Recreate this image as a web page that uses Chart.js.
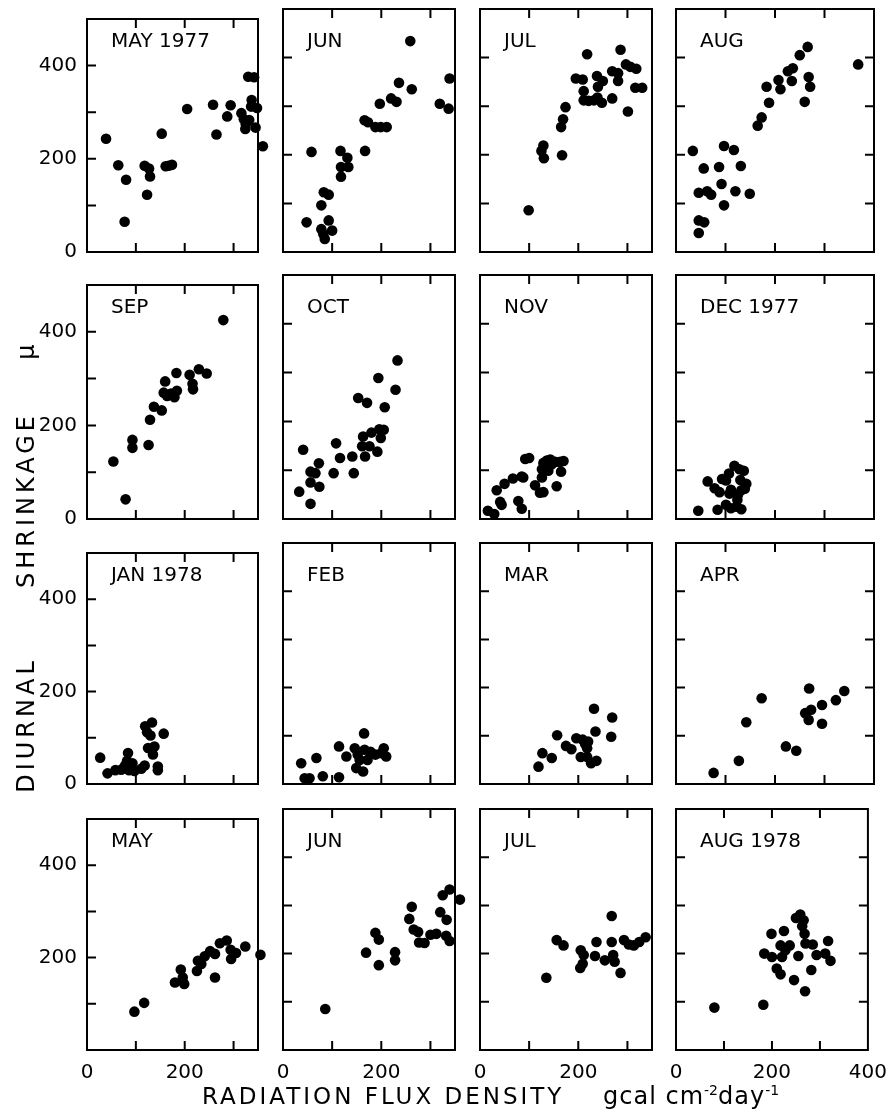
<!DOCTYPE html>
<html>
<head>
<meta charset="utf-8">
<script src="https://cdn.jsdelivr.net/npm/chart.js@4/dist/chart.umd.min.js"></script>
<style>
  body { margin: 0; background: #fff; width: 895px; height: 1116px; position: relative; overflow: hidden;
         font-family: "DejaVu Sans", sans-serif; color: #000; }
  canvas { position: absolute; }
  .month { position: absolute; font-size: 20px; line-height: 20px; white-space: pre; }
  .xtitle { position: absolute; top: 1085px; font-size: 23px; line-height: 23px; white-space: nowrap; }
  .xtitle.caps { left: 202px; letter-spacing: 3px; }
  .xtitle.units { left: 603px; font-size: 24px; letter-spacing: 1px; }
  .xtitle sup { font-size: 14px; vertical-align: 9px; line-height: 0; letter-spacing: 0; }
  .ytitle { position: absolute; font-size: 24px; line-height: 24px; white-space: nowrap; letter-spacing: 4px;
            transform: translate(-50%, -50%) rotate(-90deg); }
</style>
</head>
<body>
<script>
// panel titles, in reading order (4 x 4)
const titles = ['MAY 1977', 'JUN', 'JUL', 'AUG', 'SEP', 'OCT', 'NOV', 'DEC 1977',
                'JAN 1978', 'FEB', 'MAR', 'APR', 'MAY', 'JUN', 'JUL', 'AUG 1978'];

// tick labels shown on the outer panels
const yTickLabels = [0, 200, 400];
const yTickLabelsLastRow = [200, 400];
const xTickLabels = [0, 200];
const xTickLabelsLastCol = [0, 200, 400];
const xMax = [350, 350, 350, 400];
const yMax = 500;

// [radiation flux density, diurnal shrinkage]
const may77 = [[39,243],[64,186],[80,155],[77,65],[118,185],[127,179],[129,162],[123,123],[153,254],[161,184],[167,185],[174,187],[205,307],[258,316],[265,252],[294,315],[287,291],[316,298],[321,285],[325,274],[324,264],[332,283],[330,376],[342,375],[337,326],[336,312],[348,309],[345,267],[360,227],[367,170]];
const jun77 = [[48,61],[58,206],[78,96],[83,123],[93,118],[78,47],[82,37],[85,27],[93,65],[100,44],[117,208],[118,175],[131,194],[133,175],[118,155],[167,208],[166,271],[173,267],[188,257],[199,257],[211,257],[197,305],[220,316],[231,309],[236,348],[259,434],[262,335],[319,305],[337,295],[339,357]];
const jul77 = [[99,86],[125,208],[129,219],[130,193],[167,199],[165,257],[169,273],[174,298],[195,357],[209,355],[211,331],[211,312],[221,311],[218,407],[232,312],[238,362],[240,340],[239,318],[248,307],[250,352],[269,372],[281,368],[269,316],[281,352],[286,416],[297,386],[306,381],[318,377],[301,289],[316,338],[330,338]];
const aug77 = [[34,208],[56,172],[46,122],[63,125],[71,118],[46,65],[57,61],[46,39],[87,175],[92,140],[97,218],[97,96],[117,210],[120,125],[131,177],[149,120],[165,260],[173,277],[183,340],[188,307],[207,354],[211,335],[226,372],[236,378],[234,352],[250,405],[266,422],[268,360],[271,340],[260,309],[368,386]];
const sep77 = [[54,123],[79,42],[93,169],[93,152],[126,158],[129,212],[137,240],[153,232],[160,294],[157,270],[164,263],[172,268],[179,260],[184,274],[183,312],[210,308],[216,289],[217,277],[229,320],[245,311],[279,425]];
const oct77 = [[33,56],[41,142],[56,97],[56,75],[56,31],[66,94],[73,114],[74,66],[103,94],[108,155],[116,125],[141,128],[144,94],[153,248],[161,149],[167,128],[163,169],[171,238],[176,149],[180,177],[192,138],[194,289],[196,184],[199,166],[205,183],[207,229],[229,265],[233,325]];
const nov77 = [[16,17],[29,10],[34,59],[41,35],[44,29],[50,72],[67,83],[78,37],[85,21],[85,87],[92,123],[100,125],[88,85],[112,69],[122,54],[129,55],[126,85],[126,102],[129,115],[136,120],[143,122],[146,112],[139,99],[153,117],[163,117],[170,119],[165,97],[156,67],[136,105]];
const dec77 = [[45,17],[84,19],[64,77],[78,63],[88,55],[93,82],[107,93],[118,109],[128,102],[137,99],[130,80],[142,72],[139,62],[111,60],[108,52],[125,49],[101,29],[111,22],[122,25],[132,20],[124,39],[101,79],[132,59]];
const jan78 = [[27,57],[42,23],[58,30],[73,33],[78,40],[84,67],[82,50],[86,30],[90,33],[93,45],[97,28],[118,40],[119,125],[123,112],[130,105],[133,133],[125,78],[138,81],[135,64],[145,38],[145,30],[157,109],[111,33],[70,31]];
const feb78 = [[37,43],[44,12],[54,12],[68,54],[81,16],[114,14],[114,78],[129,57],[146,74],[149,33],[163,26],[165,105],[166,71],[156,50],[172,50],[178,67],[188,61],[200,64],[205,74],[210,57],[152,61]];
const mar78 = [[119,36],[127,64],[146,54],[157,101],[175,79],[186,72],[196,95],[205,56],[209,92],[214,83],[220,88],[218,74],[218,56],[226,43],[237,48],[232,156],[235,109],[267,98],[269,138]];
const apr78 = [[76,23],[127,48],[142,128],[173,178],[222,78],[243,69],[261,147],[268,133],[273,154],[269,198],[295,164],[295,125],[323,174],[340,193]];
const may78 = [[97,83],[117,102],[180,146],[192,174],[196,157],[199,143],[225,171],[227,193],[234,186],[241,203],[252,214],[262,208],[262,157],[272,231],[286,237],[294,217],[295,197],[305,210],[324,224],[355,206]];
const jun78 = [[86,85],[169,202],[188,243],[195,229],[195,176],[228,203],[228,186],[257,272],[262,297],[266,250],[275,245],[277,223],[288,222],[300,239],[312,241],[320,286],[325,321],[333,270],[332,237],[339,333],[339,226],[360,312]];
const jul78 = [[135,150],[156,228],[170,217],[204,170],[205,207],[211,197],[209,179],[234,195],[237,224],[254,186],[268,278],[268,224],[271,197],[274,183],[286,160],[293,228],[303,219],[313,217],[324,224],[337,234]];
const aug78 = [[80,88],[182,94],[184,200],[199,241],[200,193],[210,169],[218,157],[218,217],[221,193],[225,247],[228,207],[237,217],[246,145],[250,274],[255,195],[259,281],[266,269],[263,257],[268,241],[269,122],[270,221],[282,166],[285,219],[293,197],[311,200],[317,226],[322,185]];

const panels = [may77, jun77, jul77, aug77, sep77, oct77, nov77, dec77,
                jan78, feb78, mar78, apr78, may78, jun78, jul78, aug78];

// where each plot box sits on the page
const colLeft = [87, 283, 480, 676];
const colWidth = [171, 172, 172, 198];
const rowTop = [9, 275, 543, 809];
const rowHeight = [243, 244, 241, 241];
const PAD_L = 60, PAD_T = 12, PAD_R = 24, PAD_B = 40;

// box round the plot plus inward ticks
const frame = {
  id: 'frame',
  beforeDatasetsDraw(chart, args, opts) {
    const { ctx, chartArea: a, scales: { x, y } } = chart;
    const L = 9;
    ctx.save();
    ctx.strokeStyle = '#000';
    ctx.lineWidth = 2;
    ctx.strokeRect(a.left, a.top, a.right - a.left, a.bottom - a.top);
    ctx.beginPath();
    for (let v = 100; v < x.max; v += 100) {
      const px = x.getPixelForValue(v);
      ctx.moveTo(px, a.bottom); ctx.lineTo(px, a.bottom - L);
      ctx.moveTo(px, a.top); ctx.lineTo(px, a.top + L);
    }
    for (let v = 100; v < y.max; v += 100) {
      const py = y.getPixelForValue(v);
      ctx.moveTo(a.left, py); ctx.lineTo(a.left + L, py);
      if (opts.rightTicks) { ctx.moveTo(a.right, py); ctx.lineTo(a.right - L, py); }
    }
    ctx.stroke();
    ctx.restore();
  }
};

const tickFont = { family: 'DejaVu Sans', size: 20 };

panels.forEach((pts, i) => {
  const r = Math.floor(i / 4), c = i % 4;
  const canvas = document.createElement('canvas');
  canvas.width = colWidth[c] + PAD_L + PAD_R;
  canvas.height = rowHeight[r] + PAD_T + PAD_B;
  canvas.style.left = (colLeft[c] - PAD_L) + 'px';
  canvas.style.top = (rowTop[r] - PAD_T) + 'px';
  document.body.appendChild(canvas);

  const yShown = r === 3 ? yTickLabelsLastRow : yTickLabels;
  const xShown = c === 3 ? xTickLabelsLastCol : xTickLabels;

  new Chart(canvas, {
    type: 'scatter',
    data: {
      datasets: [{
        data: pts.map(p => ({ x: p[0], y: p[1] })),
        pointRadius: 5.3,
        pointBackgroundColor: '#000',
        pointBorderWidth: 0,
        clip: false
      }]
    },
    options: {
      responsive: false,
      animation: false,
      devicePixelRatio: 1,
      events: [],
      layout: { autoPadding: false, padding: { left: 0, top: PAD_T, right: PAD_R, bottom: 0 } },
      plugins: { legend: { display: false }, tooltip: { enabled: false }, frame: { rightTicks: c === 3 } },
      scales: {
        x: {
          type: 'linear', min: 0, max: xMax[c],
          afterFit: s => { s.height = PAD_B; },
          grid: { display: false, drawTicks: false },
          border: { display: false },
          ticks: {
            display: r === 3, stepSize: 100, includeBounds: false, autoSkip: false, maxRotation: 0,
            padding: 11, color: '#000', font: tickFont,
            callback: v => xShown.includes(v) ? String(v) : ''
          }
        },
        y: {
          type: 'linear', min: 0, max: yMax,
          afterFit: s => { s.width = PAD_L; },
          grid: { display: false, drawTicks: false },
          border: { display: false },
          ticks: {
            display: c === 0, stepSize: 100, includeBounds: false, autoSkip: false,
            padding: 10, color: '#000', font: tickFont,
            callback: v => yShown.includes(v) ? String(v) : ''
          }
        }
      }
    },
    plugins: [frame]
  });

  const lab = document.createElement('div');
  lab.className = 'month';
  lab.textContent = titles[i];
  lab.style.left = (colLeft[c] + 24) + 'px';
  lab.style.top = (rowTop[r] + 21) + 'px';
  document.body.appendChild(lab);
});

// axis titles
const xt = document.createElement('div');
xt.className = 'xtitle caps';
xt.textContent = 'RADIATION FLUX DENSITY';
document.body.appendChild(xt);

const xu = document.createElement('div');
xu.className = 'xtitle units';
xu.innerHTML = 'gcal cm<sup>-2</sup>day<sup>-1</sup>';
document.body.appendChild(xu);

[['DIURNAL', 725], ['SHRINKAGE', 500], ['μ', 350]].forEach(([word, cy]) => {
  const d = document.createElement('div');
  d.className = 'ytitle';
  d.textContent = word;
  d.style.left = '26px';
  d.style.top = cy + 'px';
  document.body.appendChild(d);
});
</script>
</body>
</html>
